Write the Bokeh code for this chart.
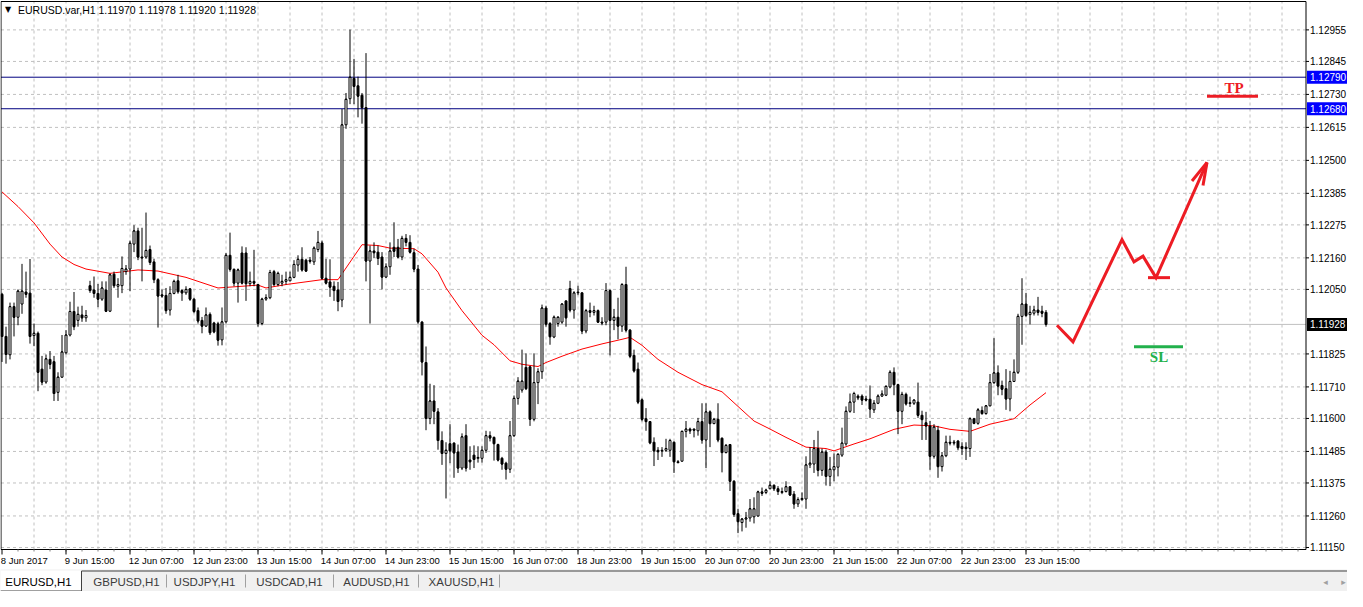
from bokeh.plotting import figure
from bokeh.models import Range1d, ColumnDataSource
from bokeh.layouts import column
from bokeh.embed import file_html
from bokeh.resources import INLINE
from bokeh.core.properties import value

# ---------------- data (EURUSD H1) ----------------
opens = [1.12033, 1.11886, 1.11822, 1.11990, 1.11953, 1.11999, 1.12041, 1.12037, 1.11889, 1.11897,
         1.11772, 1.11727, 1.11806, 1.11798, 1.11691, 1.11744, 1.11829, 1.11891, 1.11973, 1.11942,
         1.11961, 1.11951, 1.12063, 1.12048, 1.12036, 1.12016, 1.12048, 1.11974, 1.12103, 1.12061,
         1.12063, 1.12112, 1.12121, 1.12208, 1.12254, 1.12163, 1.12163, 1.12189, 1.12146, 1.12084,
         1.12031, 1.12029, 1.11978, 1.12036, 1.12080, 1.12046, 1.12038, 1.12052, 1.12016, 1.11976,
         1.11942, 1.11922, 1.11963, 1.11933, 1.11930, 1.11874, 1.11937, 1.12169, 1.12120, 1.12072,
         1.12177, 1.12177, 1.12070, 1.12078, 1.12067, 1.11931, 1.12016, 1.12021, 1.12112, 1.12067,
         1.12072, 1.12078, 1.12080, 1.12092, 1.12135, 1.12155, 1.12152, 1.12152, 1.12146, 1.12189,
         1.12212, 1.12089, 1.12076, 1.12061, 1.12048, 1.12013, 1.12624, 1.12715, 1.12786, 1.12760,
         1.12727, 1.12684, 1.12149, 1.12184, 1.12180, 1.12163, 1.12093, 1.12129, 1.12197, 1.12197,
         1.12163, 1.12228, 1.12214, 1.12178, 1.12121, 1.11936, 1.11795, 1.11600, 1.11661, 1.11623,
         1.11523, 1.11478, 1.11512, 1.11514, 1.11483, 1.11427, 1.11540, 1.11455, 1.11472, 1.11461,
         1.11461, 1.11489, 1.11540, 1.11534, 1.11509, 1.11461, 1.11444, 1.11423, 1.11540, 1.11670,
         1.11699, 1.11778, 1.11780, 1.11597, 1.11725, 1.11763, 1.11985, 1.11931, 1.11884, 1.11931,
         1.11936, 1.12010, 1.12053, 1.11978, 1.12038, 1.12038, 1.11905, 1.11976, 1.11970, 1.11976,
         1.11936, 1.11936, 1.12046, 1.11942, 1.11953, 1.11922, 1.12067, 1.11908, 1.11820, 1.11772,
         1.11665, 1.11599, 1.11589, 1.11517, 1.11489, 1.11489, 1.11489, 1.11489, 1.11517, 1.11449,
         1.11451, 1.11555, 1.11563, 1.11563, 1.11557, 1.11589, 1.11525, 1.11623, 1.11582, 1.11597,
         1.11531, 1.11481, 1.11509, 1.11381, 1.11268, 1.11237, 1.11249, 1.11253, 1.11257, 1.11260,
         1.11344, 1.11342, 1.11355, 1.11367, 1.11355, 1.11342, 1.11345, 1.11362, 1.11336, 1.11302,
         1.11317, 1.11319, 1.11438, 1.11441, 1.11495, 1.11419, 1.11483, 1.11398, 1.11421, 1.11430,
         1.11472, 1.11511, 1.11625, 1.11657, 1.11678, 1.11678, 1.11668, 1.11667, 1.11630, 1.11653,
         1.11678, 1.11681, 1.11710, 1.11761, 1.11718, 1.11625, 1.11684, 1.11655, 1.11653, 1.11657,
         1.11611, 1.11585, 1.11574, 1.11468, 1.11559, 1.11432, 1.11470, 1.11517, 1.11514, 1.11521,
         1.11502, 1.11500, 1.11495, 1.11599, 1.11583, 1.11628, 1.11617, 1.11644, 1.11725, 1.11759,
         1.11715, 1.11704, 1.11668, 1.11729, 1.11761, 1.11956, 1.11999, 1.11962, 1.11967, 1.11978,
         1.11974, 1.11970]
highs = [1.12038, 1.11920, 1.12004, 1.12004, 1.12050, 1.12139, 1.12112, 1.12156, 1.11931, 1.11903,
         1.11818, 1.11823, 1.11835, 1.11818, 1.11761, 1.11891, 1.11908, 1.12007, 1.12041, 1.11990,
         1.11993, 1.11978, 1.12080, 1.12095, 1.12069, 1.12078, 1.12078, 1.12106, 1.12112, 1.12089,
         1.12165, 1.12135, 1.12220, 1.12274, 1.12265, 1.12265, 1.12318, 1.12203, 1.12157, 1.12089,
         1.12050, 1.12055, 1.12061, 1.12084, 1.12101, 1.12050, 1.12061, 1.12055, 1.12021, 1.11987,
         1.11954, 1.11987, 1.11970, 1.11937, 1.11937, 1.11987, 1.12177, 1.12248, 1.12123, 1.12123,
         1.12200, 1.12197, 1.12112, 1.12188, 1.12067, 1.12021, 1.12033, 1.12118, 1.12118, 1.12112,
         1.12101, 1.12112, 1.12112, 1.12152, 1.12169, 1.12197, 1.12157, 1.12163, 1.12200, 1.12254,
         1.12220, 1.12157, 1.12155, 1.12078, 1.12076, 1.12679, 1.12735, 1.12956, 1.12854, 1.12792,
         1.12735, 1.12874, 1.12203, 1.12214, 1.12203, 1.12180, 1.12141, 1.12214, 1.12284, 1.12226,
         1.12237, 1.12243, 1.12239, 1.12192, 1.12135, 1.11940, 1.11851, 1.11721, 1.11716, 1.11636,
         1.11555, 1.11517, 1.11580, 1.11517, 1.11509, 1.11548, 1.11580, 1.11503, 1.11506, 1.11503,
         1.11503, 1.11557, 1.11555, 1.11537, 1.11512, 1.11466, 1.11449, 1.11591, 1.11680, 1.11744,
         1.11840, 1.11827, 1.11784, 1.11827, 1.11775, 1.11997, 1.11993, 1.11936, 1.11959, 1.11956,
         1.12001, 1.12012, 1.12080, 1.12044, 1.12063, 1.12040, 1.11982, 1.12004, 1.11993, 1.11980,
         1.11953, 1.12072, 1.12050, 1.11982, 1.12021, 1.12072, 1.12129, 1.11912, 1.11840, 1.11795,
         1.11670, 1.11636, 1.11591, 1.11534, 1.11500, 1.11500, 1.11529, 1.11529, 1.11520, 1.11455,
         1.11557, 1.11591, 1.11568, 1.11565, 1.11602, 1.11653, 1.11653, 1.11628, 1.11602, 1.11653,
         1.11534, 1.11511, 1.11511, 1.11385, 1.11285, 1.11253, 1.11274, 1.11319, 1.11325, 1.11348,
         1.11359, 1.11355, 1.11381, 1.11370, 1.11364, 1.11359, 1.11381, 1.11364, 1.11347, 1.11325,
         1.11342, 1.11468, 1.11500, 1.11525, 1.11557, 1.11495, 1.11491, 1.11466, 1.11478, 1.11478,
         1.11568, 1.11642, 1.11687, 1.11693, 1.11684, 1.11684, 1.11679, 1.11715, 1.11664, 1.11684,
         1.11698, 1.11715, 1.11768, 1.11778, 1.11721, 1.11693, 1.11690, 1.11676, 1.11666, 1.11725,
         1.11627, 1.11623, 1.11591, 1.11580, 1.11574, 1.11483, 1.11540, 1.11540, 1.11525, 1.11525,
         1.11517, 1.11517, 1.11604, 1.11602, 1.11636, 1.11642, 1.11647, 1.11755, 1.11880, 1.11785,
         1.11732, 1.11772, 1.11766, 1.11806, 1.11965, 1.12089, 1.12038, 1.11993, 1.11993, 1.12024,
         1.11993, 1.11978]
lows = [1.11797, 1.11791, 1.11806, 1.11886, 1.11925, 1.11965, 1.12021, 1.11861, 1.11852, 1.11695,
        1.11716, 1.11721, 1.11772, 1.11661, 1.11661, 1.11741, 1.11823, 1.11886, 1.11908, 1.11920,
        1.11937, 1.11937, 1.12038, 1.12021, 1.11988, 1.12010, 1.11971, 1.11971, 1.12055, 1.12021,
        1.12037, 1.12101, 1.12044, 1.12180, 1.12152, 1.12078, 1.12157, 1.12135, 1.12072, 1.11917,
        1.12021, 1.11965, 1.11959, 1.12033, 1.12035, 1.12010, 1.12031, 1.12010, 1.11967, 1.11931,
        1.11897, 1.11920, 1.11891, 1.11897, 1.11854, 1.11855, 1.11931, 1.12112, 1.12061, 1.12004,
        1.12067, 1.12010, 1.12061, 1.12061, 1.11920, 1.11925, 1.12010, 1.12016, 1.12061, 1.12061,
        1.12061, 1.12067, 1.12078, 1.12089, 1.12112, 1.12112, 1.12112, 1.12140, 1.12135, 1.12180,
        1.12084, 1.12067, 1.12024, 1.12010, 1.11974, 1.11988, 1.12610, 1.12696, 1.12696, 1.12650,
        1.12628, 1.12078, 1.11931, 1.12160, 1.12135, 1.12050, 1.12090, 1.12101, 1.12163, 1.12158,
        1.12152, 1.12200, 1.12175, 1.12110, 1.11930, 1.11750, 1.11559, 1.11580, 1.11580, 1.11491,
        1.11438, 1.11321, 1.11444, 1.11393, 1.11410, 1.11420, 1.11415, 1.11421, 1.11427, 1.11446,
        1.11446, 1.11480, 1.11520, 1.11453, 1.11450, 1.11421, 1.11387, 1.11410, 1.11535, 1.11648,
        1.11690, 1.11699, 1.11574, 1.11590, 1.11650, 1.11738, 1.11920, 1.11857, 1.11880, 1.11920,
        1.11930, 1.11920, 1.11970, 1.11948, 1.12030, 1.11894, 1.11897, 1.11953, 1.11959, 1.11933,
        1.11925, 1.11925, 1.11820, 1.11908, 1.11876, 1.11902, 1.11900, 1.11810, 1.11760, 1.11650,
        1.11590, 1.11557, 1.11510, 1.11434, 1.11455, 1.11466, 1.11483, 1.11466, 1.11410, 1.11444,
        1.11449, 1.11534, 1.11546, 1.11534, 1.11540, 1.11512, 1.11427, 1.11500, 1.11580, 1.11517,
        1.11412, 1.11478, 1.11347, 1.11257, 1.11200, 1.11206, 1.11219, 1.11240, 1.11234, 1.11257,
        1.11330, 1.11336, 1.11353, 1.11347, 1.11333, 1.11336, 1.11342, 1.11330, 1.11285, 1.11291,
        1.11313, 1.11285, 1.11427, 1.11410, 1.11398, 1.11400, 1.11366, 1.11364, 1.11381, 1.11398,
        1.11466, 1.11505, 1.11620, 1.11619, 1.11664, 1.11647, 1.11659, 1.11602, 1.11619, 1.11650,
        1.11675, 1.11678, 1.11705, 1.11681, 1.11546, 1.11580, 1.11645, 1.11640, 1.11647, 1.11602,
        1.11525, 1.11525, 1.11421, 1.11460, 1.11393, 1.11415, 1.11465, 1.11506, 1.11506, 1.11489,
        1.11472, 1.11455, 1.11466, 1.11580, 1.11578, 1.11613, 1.11613, 1.11642, 1.11720, 1.11681,
        1.11681, 1.11630, 1.11625, 1.11727, 1.11755, 1.11857, 1.11953, 1.11928, 1.11959, 1.11959,
        1.11953, 1.11920]
closes = [1.11886, 1.11823, 1.11990, 1.11953, 1.12044, 1.12044, 1.12033, 1.11886, 1.11897, 1.11761,
          1.11727, 1.11808, 1.11789, 1.11687, 1.11744, 1.11832, 1.11891, 1.11973, 1.11920, 1.11963,
          1.11951, 1.11959, 1.12046, 1.12036, 1.12016, 1.12055, 1.11974, 1.12101, 1.12063, 1.12067,
          1.12123, 1.12121, 1.12211, 1.12254, 1.12163, 1.12160, 1.12186, 1.12144, 1.12084, 1.12027,
          1.12027, 1.11976, 1.12036, 1.12078, 1.12042, 1.12038, 1.12050, 1.12016, 1.11973, 1.11940,
          1.11922, 1.11961, 1.11899, 1.11902, 1.11873, 1.11937, 1.12169, 1.12120, 1.12072, 1.12118,
          1.12072, 1.12070, 1.12078, 1.12072, 1.11931, 1.12016, 1.12021, 1.12109, 1.12067, 1.12106,
          1.12078, 1.12084, 1.12092, 1.12137, 1.12155, 1.12118, 1.12114, 1.12148, 1.12194, 1.12214,
          1.12089, 1.12072, 1.12058, 1.12046, 1.12008, 1.12624, 1.12713, 1.12790, 1.12758, 1.12724,
          1.12684, 1.12149, 1.12184, 1.12178, 1.12158, 1.12093, 1.12129, 1.12184, 1.12183, 1.12163,
          1.12228, 1.12214, 1.12180, 1.12121, 1.11937, 1.11797, 1.11600, 1.11661, 1.11625, 1.11523,
          1.11478, 1.11489, 1.11487, 1.11480, 1.11427, 1.11536, 1.11427, 1.11449, 1.11457, 1.11464,
          1.11489, 1.11540, 1.11532, 1.11512, 1.11455, 1.11441, 1.11423, 1.11540, 1.11670, 1.11730,
          1.11730, 1.11704, 1.11597, 1.11725, 1.11763, 1.11985, 1.11929, 1.11885, 1.11953, 1.11953,
          1.11999, 1.11951, 1.11978, 1.12038, 1.12040, 1.11905, 1.11976, 1.11970, 1.11976, 1.11936,
          1.11933, 1.12046, 1.11942, 1.11953, 1.11922, 1.12067, 1.11908, 1.11817, 1.11766, 1.11657,
          1.11597, 1.11589, 1.11515, 1.11487, 1.11484, 1.11487, 1.11495, 1.11523, 1.11449, 1.11446,
          1.11555, 1.11563, 1.11557, 1.11559, 1.11589, 1.11525, 1.11623, 1.11582, 1.11597, 1.11525,
          1.11481, 1.11506, 1.11381, 1.11265, 1.11240, 1.11249, 1.11253, 1.11285, 1.11285, 1.11344,
          1.11339, 1.11350, 1.11367, 1.11355, 1.11345, 1.11345, 1.11362, 1.11333, 1.11302, 1.11317,
          1.11321, 1.11438, 1.11444, 1.11495, 1.11419, 1.11483, 1.11398, 1.11423, 1.11432, 1.11475,
          1.11514, 1.11625, 1.11657, 1.11687, 1.11672, 1.11664, 1.11664, 1.11633, 1.11653, 1.11678,
          1.11685, 1.11712, 1.11761, 1.11718, 1.11625, 1.11684, 1.11651, 1.11652, 1.11664, 1.11611,
          1.11596, 1.11574, 1.11468, 1.11570, 1.11432, 1.11470, 1.11517, 1.11514, 1.11517, 1.11498,
          1.11495, 1.11495, 1.11599, 1.11583, 1.11630, 1.11617, 1.11644, 1.11725, 1.11759, 1.11713,
          1.11702, 1.11668, 1.11729, 1.11761, 1.11956, 1.11999, 1.11959, 1.11970, 1.11978, 1.11970,
          1.11967, 1.11928]

# moving average (red), sampled at bar indices
ma_bars = [0, 4, 8, 12, 15, 18, 21, 27, 34, 39, 46, 54, 64, 66, 71, 80, 84, 90, 94, 97, 103, 105,
           109, 111, 115, 120, 123, 127, 130, 134, 136, 140, 145, 150, 155, 157, 160, 164, 169, 175,
           180, 184, 188, 192, 196, 201, 206, 208, 213, 217, 223, 228, 233, 237, 242, 247, 253, 257, 261]
ma_vals = [1.12390, 1.12339, 1.12282, 1.12208, 1.12163, 1.12137, 1.12121, 1.12106, 1.12118, 1.12114,
           1.12092, 1.12055, 1.12065, 1.12055, 1.12067, 1.12084, 1.12084, 1.12206, 1.12203, 1.12194,
           1.12192, 1.12174, 1.12110, 1.12055, 1.11976, 1.11890, 1.11857, 1.11801, 1.11789, 1.11781,
           1.11795, 1.11817, 1.11842, 1.11860, 1.11876, 1.11883, 1.11855, 1.11806, 1.11761, 1.11718,
           1.11693, 1.11642, 1.11591, 1.11563, 1.11534, 1.11500, 1.11495, 1.11487, 1.11511, 1.11529,
           1.11562, 1.11577, 1.11574, 1.11562, 1.11555, 1.11580, 1.11599, 1.11647, 1.11690]

# axis ticks
x_tick_bars = [0, 16, 32, 48, 64, 80, 96, 112, 128, 144, 160, 176, 192, 208, 224, 240, 256]
x_tick_labels = ["8 Jun 2017", "9 Jun 15:00", "12 Jun 07:00", "12 Jun 23:00", "13 Jun 15:00",
                 "14 Jun 07:00", "14 Jun 23:00", "15 Jun 15:00", "16 Jun 07:00", "18 Jun 23:00",
                 "19 Jun 15:00", "20 Jun 07:00", "20 Jun 23:00", "21 Jun 15:00", "22 Jun 07:00",
                 "22 Jun 23:00", "23 Jun 15:00"]
y_ticks = [1.12955, 1.12845, 1.12730, 1.12615, 1.12500, 1.12385, 1.12275, 1.12160, 1.12050,
           1.11825, 1.11710, 1.11600, 1.11485, 1.11375, 1.11260, 1.11150]
y_tick_labels = ["1.12955", "1.12845", "1.12730", "1.12615", "1.12500", "1.12385", "1.12275",
                 "1.12160", "1.12050", "1.11825", "1.11710", "1.11600", "1.11485", "1.11375",
                 "1.11260", "1.11150"]

# horizontal levels and hand drawings
levels = [1.12790, 1.12680]
arrow_bars = [263.75, 267.75, 280.0, 283.0, 285.25, 288.5, 301.25]
arrow_prices = [1.11925, 1.11867, 1.12224, 1.12146, 1.12166, 1.12091, 1.12493]
head_bars = [297.5, 300.25]
head_prices = [1.12428, 1.12412]
mark_bars = [286.5, 292.0]
mark_price = 1.12091
tp_bars = [301.25, 314.0]
tp_price = 1.12724
tp_label = ["TP"]
tp_pos = (308.0, 1.12754)
sl_bars = [283.0, 295.25]
sl_price = 1.11850
sl_label = ["SL"]
sl_pos = (289.25, 1.11813)

tabs = ["EURUSD,H1", "GBPUSD,H1", "USDJPY,H1", "USDCAD,H1", "AUDUSD,H1", "XAUUSD,H1"]
tab_x = [38, 126, 204, 289, 376, 461]
tab_sep_x = [166, 245, 333, 418, 499]

# ---------------- geometry ----------------
W, FH = 1347, 569
PXB = 4.0                        # pixels per bar
XL = -0.375                      # puts bar centres on half pixels (crisp 1px wicks)
XR = XL + W / PXB
AX = 326.0                       # price axis position (bars)
P_TOP, P_BOT = 1.13054, 1.11143  # chart window price limits
PXP = 548.0 / (P_TOP - P_BOT)    # pixels per price unit
YT = P_TOP + 1.0 / PXP
YB = YT - FH / PXP
dxp = lambda px: px / PXB
dyp = lambda px: px / PXP

p = figure(frame_width=W, frame_height=FH, x_range=Range1d(XL, XR), y_range=Range1d(YB, YT),
           output_backend="svg", toolbar_location=None, x_axis_location=None,
           y_axis_location=None, min_border=0)
p.background_fill_color = "white"
p.border_fill_color = "white"
p.outline_line_color = None
p.grid.visible = False

LEFT = -0.25
grid_c = "#C0C0C0"
vg = list(range(8, 326, 8))
p.segment(x0=vg, y0=[P_BOT] * len(vg), x1=vg, y1=[P_TOP] * len(vg),
          line_color=grid_c, line_dash="3 3", line_width=1)
p.segment(x0=[LEFT] * len(y_ticks), y0=y_ticks, x1=[AX] * len(y_ticks), y1=y_ticks,
          line_color=grid_c, line_dash="3 3", line_width=1)

# bid line and levels
p.segment(x0=[LEFT], y0=[closes[-1]], x1=[AX], y1=[closes[-1]], line_color="#C0C0C0", line_width=1)
p.segment(x0=[LEFT] * len(levels), y0=levels, x1=[AX] * len(levels), y1=levels,
          line_color="#000080", line_width=1)

# moving average
p.line(ma_bars, ma_vals, line_color="#FF0000", line_width=1)

# candles
idx = list(range(len(closes)))
src = ColumnDataSource(dict(
    idx=idx, open=opens, high=highs, low=lows, close=closes,
    top=[max(o, c) for o, c in zip(opens, closes)],
    bottom=[min(o, c) for o, c in zip(opens, closes)],
    x0=[i - 0.25 for i in idx], x1=[i + 0.25 for i in idx],
    fill=["white" if c >= o else "black" for o, c in zip(opens, closes)],
))
p.segment(x0="idx", y0="low", x1="idx", y1="high", source=src, line_color="black", line_width=1)
p.vbar(x="idx", width=0.5, top="top", bottom="bottom", source=src,
       fill_color="fill", line_color="black", line_width=1)
p.segment(x0="x0", y0="close", x1="x1", y1="close", source=src, line_color="black", line_width=1)

# hand drawings
red = "#ED1C24"
green = "#22B14C"
p.line(arrow_bars, arrow_prices, line_color=red, line_width=3, line_join="miter")
p.segment(x0=[arrow_bars[-1]] * 2, y0=[arrow_prices[-1]] * 2, x1=head_bars, y1=head_prices,
          line_color=red, line_width=3)
p.line(mark_bars, [mark_price] * 2, line_color=red, line_width=3)
p.line(tp_bars, [tp_price] * 2, line_color=red, line_width=3)
p.line(sl_bars, [sl_price] * 2, line_color=green, line_width=3)
p.text(x=[tp_pos[0]], y=[tp_pos[1]], text=tp_label, text_color=red,
       text_font=value("Liberation Serif"), text_font_style="bold", text_font_size="15px",
       text_align="center", text_baseline="middle")
p.text(x=[sl_pos[0]], y=[sl_pos[1]], text=sl_label, text_color=green,
       text_font=value("Liberation Serif"), text_font_style="bold", text_font_size="15px",
       text_align="center", text_baseline="middle")

# chart window border and price axis line
p.segment(x0=[LEFT, LEFT, LEFT, AX], y0=[P_BOT, P_TOP, P_BOT, P_BOT],
          x1=[LEFT, AX, AX, AX], y1=[P_TOP, P_TOP, P_BOT, P_TOP],
          line_color="black", line_width=1)

# price axis: ticks + labels
p.segment(x0=[AX] * len(y_ticks), y0=y_ticks, x1=[AX + dxp(3)] * len(y_ticks), y1=y_ticks,
          line_color="black", line_width=1)
p.text(x=[AX + dxp(4)] * len(y_ticks), y=y_ticks, text=y_tick_labels, text_color="black",
       text_font=value("Liberation Sans"), text_font_size="10px",
       text_align="left", text_baseline="middle")

# price tags on the axis
tag_prices = levels + [closes[-1]]
tag_colors = ["#0000FF", "#0000FF", "black"]
p.quad(left=[AX + dxp(1)] * 3, right=[XR] * 3,
       bottom=[v - dyp(6.5) for v in tag_prices], top=[v + dyp(6.5) for v in tag_prices],
       fill_color=tag_colors, line_color=None)
p.text(x=[AX + dxp(4)] * 3, y=tag_prices, text=["%.5f" % v for v in tag_prices],
       text_color="white", text_font=value("Liberation Sans"), text_font_size="10px",
       text_align="left", text_baseline="middle")

# time axis: ticks + labels
minor = list(range(4, 326, 4))
p.segment(x0=minor, y0=[P_BOT] * len(minor), x1=minor, y1=[P_BOT - dyp(2)] * len(minor),
          line_color="#808080", line_width=1)
p.segment(x0=x_tick_bars, y0=[P_BOT] * len(x_tick_bars), x1=x_tick_bars,
          y1=[P_BOT - dyp(5)] * len(x_tick_bars), line_color="black", line_width=1)
p.text(x=[b - 0.3 for b in x_tick_bars], y=[P_BOT - dyp(11)] * len(x_tick_bars),
       text=x_tick_labels, text_color="black", text_font=value("Liberation Sans"),
       text_font_size="9.5px", text_align="left", text_baseline="middle")

# header text
hdr_y = P_TOP - dyp(8)
p.text(x=[LEFT + dxp(4)], y=[hdr_y], text=["\u25BC"], text_color="black",
       text_font=value("DejaVu Sans"), text_font_size="8px", text_align="left",
       text_baseline="middle")
p.text(x=[LEFT + dxp(17)], y=[hdr_y],
       text=["EURUSD.var,H1  %.5f %.5f %.5f %.5f" % (opens[-1], highs[-1], lows[-1], closes[-1])],
       text_color="black", text_font=value("Liberation Sans"), text_font_size="10.5px",
       text_align="left", text_baseline="middle")

# ---------------- tab bar ----------------
t = figure(width=W, height=22, x_range=Range1d(0, W), y_range=Range1d(0, 22),
           output_backend="svg", toolbar_location=None, x_axis_location=None,
           y_axis_location=None, min_border=0)
t.background_fill_color = "#F0F0F0"
t.border_fill_color = "#F0F0F0"
t.outline_line_color = None
t.grid.visible = False
t.quad(left=[0], right=[81], bottom=[0], top=[21], fill_color="white", line_color=None)
t.segment(x0=[81, 0, 81], y0=[20.5, 0.5, 0.5], x1=[W, 81, 81], y1=[20.5, 0.5, 20.5],
          line_color="#404040", line_width=1)
t.segment(x0=tab_sep_x, y0=[4] * len(tab_sep_x), x1=tab_sep_x, y1=[17] * len(tab_sep_x),
          line_color="#A0A0A0", line_width=1)
t.text(x=tab_x, y=[10] * len(tabs), text=tabs,
       text_color=["black"] + ["#3C3C3C"] * (len(tabs) - 1),
       text_font=value("Liberation Sans"), text_font_size="11.5px",
       text_align="center", text_baseline="middle")
t.text(x=[W - 22, W - 4], y=[10, 10], text=["\u25C2", "\u25B8"], text_color="#A0A0A0",
       text_font=value("DejaVu Sans"), text_font_size="9px", text_align="center",
       text_baseline="middle")

layout = column(p, t, spacing=0)
open("out.html", "w").write(file_html(layout, INLINE))
